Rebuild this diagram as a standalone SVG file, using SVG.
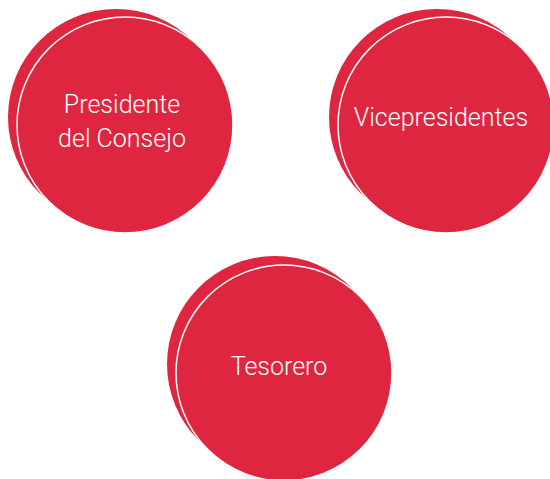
<svg xmlns="http://www.w3.org/2000/svg" width="550" height="479" viewBox="0 0 550 479">
<style>
.back{fill:#DE2640}
.front{fill:#DE2640;stroke:#FFFFFF;stroke-width:1.5}
.lbl{font-family:Roboto,"Liberation Sans",sans-serif;font-weight:300;font-size:25px;fill:#FFFFFF;text-anchor:middle}
</style>
<rect width="550" height="479" fill="#FFFFFF"/>
<g id="connectors"></g>
<g id="presidente">
<circle class="back" cx="116" cy="117" r="108"/>
<circle class="front" cx="125" cy="125" r="108"/>
<text class="lbl" x="122" y="113">Presidente</text>
<text class="lbl" x="122" y="147">del Consejo</text>
</g>
<g id="vicepresidentes">
<circle class="back" cx="437" cy="117" r="108"/>
<circle class="front" cx="446" cy="125" r="108"/>
<text class="lbl" x="441" y="126">Vicepresidentes</text>
</g>
<g id="tesorero">
<circle class="back" cx="275" cy="364" r="108"/>
<circle class="front" cx="284" cy="373" r="108"/>
<text class="lbl" x="279" y="375">Tesorero</text>
</g>
</svg>
